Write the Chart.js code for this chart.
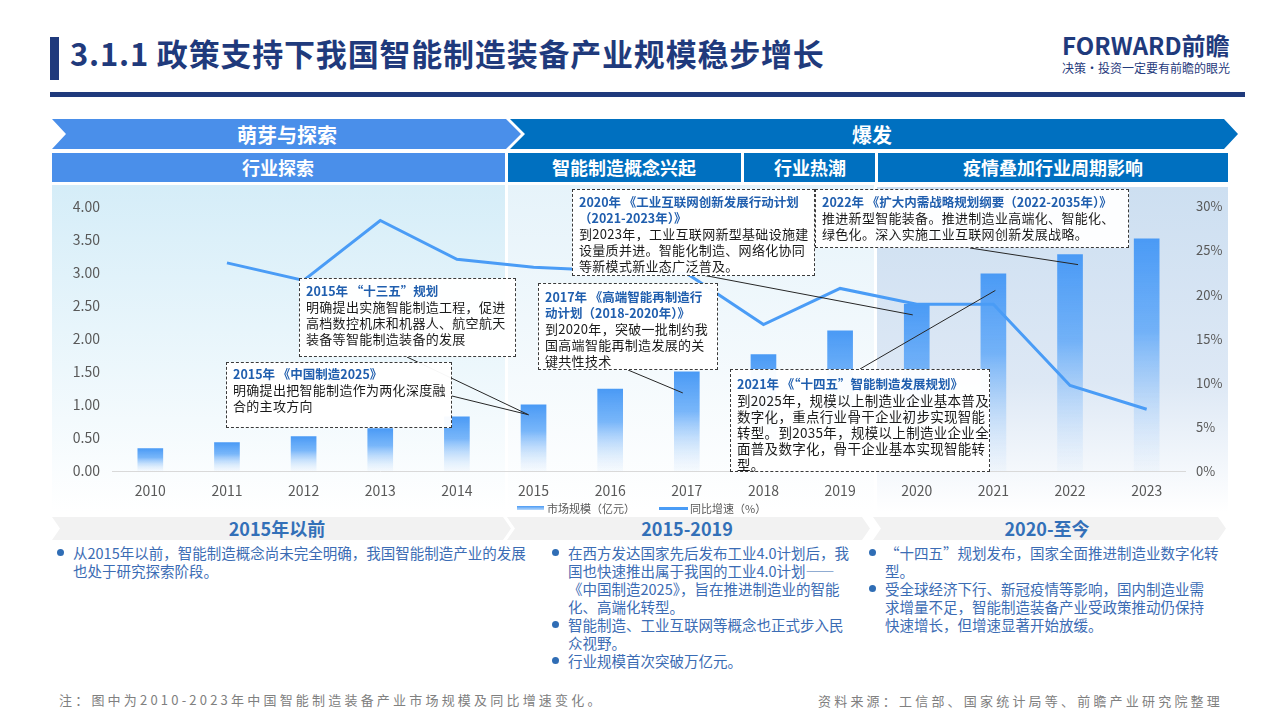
<!DOCTYPE html>
<html lang="zh-CN">
<head>
<meta charset="utf-8">
<title>政策支持下我国智能制造装备产业规模稳步增长</title>
<script src="https://cdn.jsdelivr.net/npm/chart.js@4.4.1/dist/chart.umd.min.js"></script>
<style>
  body { margin: 0; background: #fff; font-family: "Noto Sans CJK SC", "Noto Sans", sans-serif; }
  #page { position: relative; width: 1280px; height: 720px; overflow: hidden; background: #fff; }
  .abs { position: absolute; }
  .title { left: 70px; top: 32px; font-size: 31px; font-weight: bold; color: #1f3a7c; letter-spacing: 0.8px; white-space: nowrap; line-height: 42px; }
  .bg { position: absolute; }
  .callout { position: absolute; box-sizing: border-box; border: 1.5px dashed #3a3a3a; background: rgba(255,255,255,0.96);
             font-size: 13px; line-height: 16px; color: #1a1a1a; padding: 3px 0 0 6px; white-space: nowrap; letter-spacing: 0.3px; z-index: 5; }
  .callout b { color: #1f5eae; font-size: 12.5px; letter-spacing: 0; }
  .legend { position: absolute; font-size: 11px; color: #595959; white-space: nowrap; line-height: 14px; }
  .col { position: absolute; font-size: 14.5px; line-height: 18px; color: #3b6cb4; white-space: nowrap; }
  .item { position: relative; padding-left: 16px; }
  .item::before { content: ""; position: absolute; left: 0; top: 5px; width: 7px; height: 7px; border-radius: 50%; background: #2f6db5; }
  .foot { position: absolute; font-size: 13px; color: #808080; letter-spacing: 3.2px; white-space: nowrap; }
</style>
</head>
<body>
<div id="page">
  <!-- 标题 -->
  <div class="abs" style="left:50px;top:37px;width:9px;height:43px;background:#1f3a7c"></div>
  <div class="abs title">3.1.1 政策支持下我国智能制造装备产业规模稳步增长</div>
  <div class="abs" style="left:50px;top:92px;width:1195px;height:5px;background:#1f3a7c"></div>
  <div class="abs" style="left:1062px;top:30px;font-size:24px;font-weight:bold;color:#1f3a7c;white-space:nowrap;line-height:30px">FORWARD前瞻</div>
  <div class="abs" style="left:1062px;top:60px;font-size:12px;color:#1f3a7c;white-space:nowrap;line-height:16px">决策·投资一定要有前瞻的眼光</div>

  <!-- 图表背景分区 -->
  <div class="bg" style="left:52px;top:185px;width:453px;height:327px;background:linear-gradient(#d5edf8,#ffffff)"></div>
  <div class="bg" style="left:508px;top:185px;width:366px;height:327px;background:linear-gradient(#e6f3fa,#ffffff)"></div>
  <div class="bg" style="left:877px;top:187px;width:351px;height:325px;background:linear-gradient(#cddff1 0%,#dde8f5 60%,#ffffff)"></div>

  <!-- 阶段标签 -->
  <svg class="abs" style="left:0;top:0" width="1280" height="720">
    <g font-family="Noto Sans CJK SC, sans-serif" font-weight="bold" text-anchor="middle" dominant-baseline="central">
      <polygon points="52,119 506,119 521,134 506,149 52,149 66,134" fill="#4a8fea"/>
      <polygon points="510,119 1224,119 1238,134 1224,149 510,149 525,134" fill="#0070c0"/>
      <text x="287" y="134" font-size="20" fill="#fff">萌芽与探索</text>
      <text x="872" y="134" font-size="20" fill="#fff">爆发</text>

      <rect x="52" y="153" width="453" height="29" fill="#4a8fea"/>
      <rect x="508" y="153" width="233" height="29" fill="#0070c0"/>
      <rect x="744" y="153" width="131" height="29" fill="#0070c0"/>
      <rect x="878" y="153" width="350" height="29" fill="#0070c0"/>
      <text x="278" y="167" font-size="18" fill="#fff">行业探索</text>
      <text x="624" y="167" font-size="18" fill="#fff">智能制造概念兴起</text>
      <text x="810" y="167" font-size="18" fill="#fff">行业热潮</text>
      <text x="1053" y="167" font-size="18" fill="#fff">疫情叠加行业周期影响</text>

      <polygon points="52,517 503,517 511,528.5 503,540 52,540 60,528.5" fill="#f2f2f2"/>
      <polygon points="507,517 862,517 870,528.5 862,540 507,540 515,528.5" fill="#f2f2f2"/>
      <polygon points="873,517 1218,517 1226,528.5 1218,540 873,540 881,528.5" fill="#f2f2f2"/>
      <text x="277" y="528" font-size="18" fill="#3370b8">2015年以前</text>
      <text x="687" y="528" font-size="18" fill="#3370b8">2015-2019</text>
      <text x="1047" y="528" font-size="18" fill="#3370b8">2020-至今</text>
    </g>
  </svg>

  <!-- 图表 -->
  <div class="abs" style="left:52px;top:186px;width:1188px;height:328px">
    <canvas id="financialChart"></canvas>
  </div>

  <!-- 政策标注 -->
  <div class="callout" style="left:299px;top:278px;width:217px;height:79px;padding-top:4px">
    <b>2015年 “十三五”规划</b><br>明确提出实施智能制造工程，促进<br>高档数控机床和机器人、航空航天<br>装备等智能制造装备的发展
  </div>
  <div class="callout" style="left:226px;top:362px;width:226px;height:66px;padding-top:3px">
    <b>2015年 《中国制造2025》</b><br>明确提出把智能制造作为两化深度融<br>合的主攻方向
  </div>
  <div class="callout" style="left:572px;top:189px;width:243px;height:87px;padding-top:4px">
    <b>2020年 《工业互联网创新发展行动计划<br>（2021-2023年）》</b><br>到2023年，工业互联网新型基础设施建<br>设量质并进。智能化制造、网络化协同<br>等新模式新业态广泛普及。
  </div>
  <div class="callout" style="left:538px;top:283px;width:180px;height:87px;padding-top:5px">
    <b>2017年 《高端智能再制造行<br>动计划（2018-2020年）》</b><br>到2020年，突破一批制约我<br>国高端智能再制造发展的关<br>键共性技术
  </div>
  <div class="callout" style="left:815px;top:189px;width:314px;height:59px;padding-top:4px">
    <b>2022年 《扩大内需战略规划纲要（2022-2035年）》</b><br>推进新型智能装备。推进制造业高端化、智能化、<br>绿色化。深入实施工业互联网创新发展战略。
  </div>
  <div class="callout" style="left:730px;top:369px;width:260px;height:103px;padding-top:5px;font-size:13.5px;letter-spacing:0.3px">
    <b>2021年 《“十四五”智能制造发展规划》</b><br>到2025年，规模以上制造业企业基本普及<br>数字化，重点行业骨干企业初步实现智能<br>转型。到2035年，规模以上制造业企业全<br>面普及数字化，骨干企业基本实现智能转<br>型。
  </div>

  <!-- 图例 -->
  <div class="abs" style="left:517px;top:506px;width:27px;height:4px;background:linear-gradient(#4a9af5,#b9d9fb)"></div>
  <div class="legend" style="left:547px;top:501px">市场规模（亿元）</div>
  <div class="abs" style="left:659px;top:507px;width:29px;height:3px;background:#4a9cf6"></div>
  <div class="legend" style="left:690px;top:501px">同比增速（%）</div>

  <!-- 阶段说明 -->
  <div class="col" style="left:57px;top:544px">
    <div class="item">从2015年以前，智能制造概念尚未完全明确，我国智能制造产业的发展<br>也处于研究探索阶段。</div>
  </div>
  <div class="col" style="left:552px;top:544px">
    <div class="item">在西方发达国家先后发布工业4.0计划后，我<br>国也快速推出属于我国的工业4.0计划——<br>《中国制造2025》，旨在推进制造业的智能<br>化、高端化转型。</div>
    <div class="item">智能制造、工业互联网等概念也正式步入民<br>众视野。</div>
    <div class="item">行业规模首次突破万亿元。</div>
  </div>
  <div class="col" style="left:869px;top:544px">
    <div class="item">“十四五”规划发布，国家全面推进制造业数字化转<br>型。</div>
    <div class="item">受全球经济下行、新冠疫情等影响，国内制造业需<br>求增量不足，智能制造装备产业受政策推动仍保持<br>快速增长，但增速显著开始放缓。</div>
  </div>

  <!-- 注释 -->
  <div class="foot" style="left:59px;top:690px">注：图中为2010-2023年中国智能制造装备产业市场规模及同比增速变化。</div>
  <div class="foot" style="left:818px;top:691px">资料来源：工信部、国家统计局等、前瞻产业研究院整理</div>
</div>

<script>
// 年份
const years = ["2010", "2011", "2012", "2013", "2014", "2015", "2016", "2017", "2018", "2019", "2020", "2021", "2022", "2023"];
// 市场规模（万亿元，左轴）
const marketSize = [0.34, 0.43, 0.52, 0.64, 0.82, 1.00, 1.24, 1.50, 1.76, 2.12, 2.52, 2.98, 3.27, 3.51];
// 同比增速（%，右轴）
const growthRate = [null, 23.6, 21.6, 28.4, 24.0, 23.1, 22.7, 22.4, 16.6, 20.7, 18.9, 18.9, 9.7, 7.0];
// 坐标轴刻度
const leftTicks = { min: 0, max: 4, step: 0.5 };
const rightTicks = { min: 0, max: 30, step: 5 };

// 图表容器在页面上的偏移
const CHART_LEFT = 52;
const CHART_TOP = 186;

// 标注框引线：from 为标注框边缘（页面坐标），idx/val 为指向的柱子位置
const leaders = [
    { from: [407, 357], idx: 5, val: 0.85, dx: -5 },
    { from: [452, 396], idx: 5, val: 0.85, dx: -5 },
    { from: [697, 274], idx: 10, val: 2.36, dx: -4 },
    { from: [628, 370], idx: 7, val: 1.18, dx: -4 },
    { from: [970, 248], idx: 12, val: 3.12, dx: 8 },
    { from: [860, 369], idx: 11, val: 2.73, dx: 2 }
];

const leaderPlugin = {
    id: "leaders",
    afterDatasetsDraw(chart) {
        const ctx = chart.ctx;
        const x = chart.scales.x;
        const y = chart.scales.y;
        ctx.save();
        ctx.strokeStyle = "#262626";
        ctx.lineWidth = 1;
        leaders.forEach((l) => {
            const tx = x.getPixelForValue(l.idx) + l.dx;
            const ty = y.getPixelForValue(l.val);
            ctx.beginPath();
            ctx.moveTo(l.from[0] - CHART_LEFT, l.from[1] - CHART_TOP);
            ctx.lineTo(tx, ty);
            ctx.stroke();
        });
        ctx.restore();
    }
};

// 柱子渐变：顶部实色，向底部逐渐变淡
function barGradient(c) {
    const chart = c.chart;
    const y = chart.scales.y;
    if (!y || c.raw == null) return "#4a9af5";
    const top = y.getPixelForValue(c.raw);
    const bottom = y.getPixelForValue(0);
    if (!isFinite(top) || !isFinite(bottom) || top === bottom) return "#4a9af5";
    const g = chart.ctx.createLinearGradient(0, top, 0, bottom);
    g.addColorStop(0, "#4a9af5");
    g.addColorStop(0.4, "rgba(88,164,248,0.8)");
    g.addColorStop(1, "rgba(210,230,252,0.15)");
    return g;
}

const tickFont = { family: "Noto Sans CJK SC", size: 14 };

let ctx = document.getElementById("financialChart").getContext("2d");
let financialChart = new Chart(ctx, {
    data: {
        labels: years,
        datasets: [
            {
                type: "line",
                label: "同比增速（%）",
                data: growthRate,
                yAxisID: "y1",
                borderColor: "#4a9cf6",
                borderWidth: 3,
                pointRadius: 0,
                tension: 0,
                order: 0
            },
            {
                type: "bar",
                label: "市场规模（亿元）",
                data: marketSize,
                yAxisID: "y",
                backgroundColor: barGradient,
                borderWidth: 0,
                barThickness: 25,
                order: 1
            }
        ]
    },
    options: {
        responsive: true,
        maintainAspectRatio: false,
        animation: false,
        layout: { padding: { top: 10.6, left: 0, right: 0, bottom: 0 } },
        plugins: {
            legend: { display: false },
            tooltip: { enabled: false }
        },
        scales: {
            x: {
                grid: { display: false, drawTicks: false },
                border: { display: true, color: "#d9d9d9", width: 1 },
                ticks: { color: "#595959", font: tickFont, padding: 11, maxRotation: 0 },
                afterFit: (s) => { s.height = 43; }
            },
            y: {
                position: "left",
                min: leftTicks.min,
                max: leftTicks.max,
                grid: { display: false, drawTicks: false },
                border: { display: false },
                ticks: {
                    stepSize: leftTicks.step,
                    color: "#595959",
                    font: tickFont,
                    padding: 12,
                    callback: (v) => v.toFixed(2)
                },
                afterFit: (s) => { s.width = 60; }
            },
            y1: {
                position: "right",
                min: rightTicks.min,
                max: rightTicks.max,
                grid: { display: false, drawTicks: false },
                border: { display: false },
                ticks: {
                    stepSize: rightTicks.step,
                    color: "#595959",
                    font: { family: "Noto Sans CJK SC", size: 13 },
                    padding: 11,
                    callback: (v) => v + "%"
                },
                afterFit: (s) => { s.width = 55; }
            }
        }
    },
    plugins: [leaderPlugin]
});
</script>
</body>
</html>
